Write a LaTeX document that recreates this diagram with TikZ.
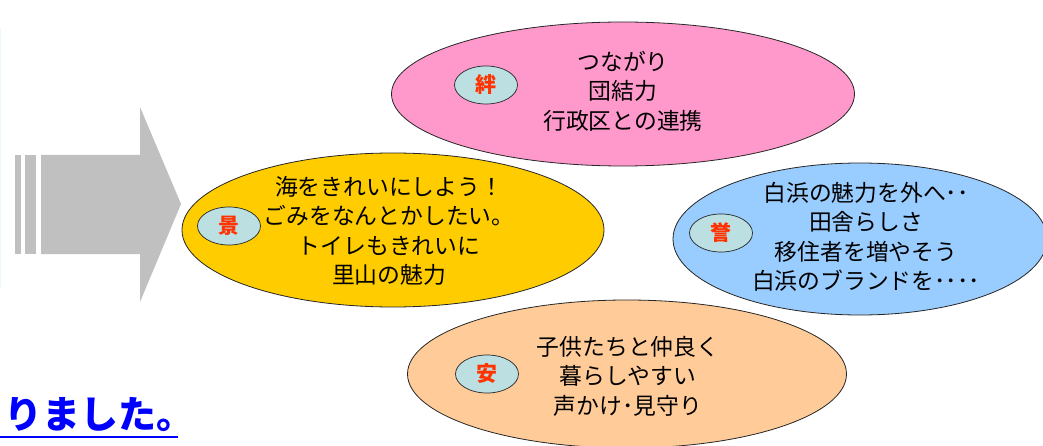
\documentclass[tikz,border=0pt]{standalone}
\usepackage{fontspec}
\setmainfont{Noto Sans CJK JP}
\usetikzlibrary{shapes.geometric}
\definecolor{kizuna}{HTML}{FF99CC}
\definecolor{kei}{HTML}{FFCC00}
\definecolor{homare}{HTML}{99CCFF}
\definecolor{an}{HTML}{FFCC99}
\definecolor{badgefill}{HTML}{BCDFE2}
\definecolor{badgetext}{HTML}{FF3300}
\definecolor{arrowgray}{HTML}{C0C0C0}
\definecolor{noteblue}{HTML}{0000FF}
\begin{document}
\begin{tikzpicture}[x=1pt, y=-1pt, line join=round,
 blob/.style={ellipse, draw=black!85, line width=.8pt, inner sep=0},
 badge/.style={ellipse, draw=black!85, line width=.7pt, fill=badgefill, minimum width=63, minimum height=38, inner sep=0, text=badgetext, font=\fontsize{21}{21}\selectfont\bfseries},
 words/.style={align=center, inner sep=0, font=\fontsize{22.8}{29.5}\selectfont}]
 \useasboundingbox (0,0) rectangle (1043,446);
 \fill[white] (0,0) rectangle (1043,446);
 \draw[cyan!8, line width=1pt] (0.5,28) -- (0.5,288);
 % big arrow
 \fill[arrowgray] (41,155)--(140,155)--(140,107)--(181,204)--(140,302)--(140,254)--(41,254)--cycle;
 \fill[arrowgray] (15,155) rectangle (21,254);
 \fill[arrowgray] (25,155) rectangle (36,254);
 % ellipses
 \node[blob, fill=kizuna, minimum width=463, minimum height=144] (kizunaE) at (623,94) {};
 \node[blob, fill=kei, minimum width=422, minimum height=154] (keiE) at (393,230) {};
 \node[blob, fill=homare, minimum width=374, minimum height=152] (homareE) at (860,239) {};
 \node[blob, fill=an, minimum width=439, minimum height=148] (anE) at (627,374) {};
 \node[badge] (kizunaB) at (486,85) {絆};
 \node[badge] (keiB) at (229,226) {景};
 \node[badge] (homareB) at (721,233) {誉};
 \node[badge] (anB) at (487,374) {安};
 \node[words] (kizunaT) at (623,91) {つながり\\団結力\\行政区との連携};
 \node[words] (keiT) at (389,231) {海をきれいにしよう！\\ごみをなんとかしたい。\\トイレもきれいに\\里山の魅力};
 \node[words] (homareT) at (866,237) {白浜の魅力を外へ･･\\田舎らしさ\\移住者を増やそう\\白浜のブランドを････};
 \node[words] (anT) at (628,376) {子供たちと仲良く\\暮らしやすい\\声かけ･見守り};
 % caption
 \node[anchor=west, inner sep=0, text=noteblue, font=\fontsize{38}{38}\selectfont\bfseries] (note) at (4,415) {りました。};
 \coordinate (ulA) at (0,437);
 \coordinate (ulB) at (178,437);
 \draw[noteblue, line width=2pt] (ulA) -- (ulB);
\end{tikzpicture}
\end{document}
